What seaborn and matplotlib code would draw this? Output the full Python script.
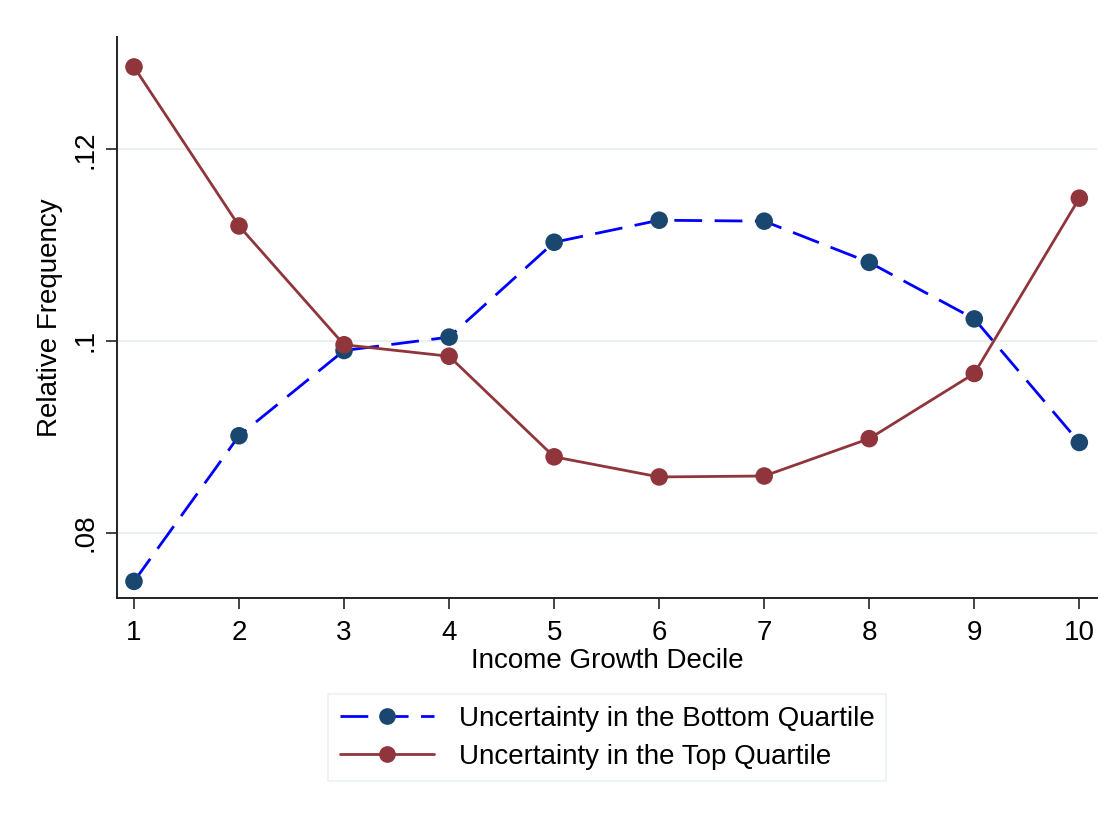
import pandas as pd
import matplotlib
matplotlib.use("Agg")
import matplotlib.pyplot as plt
import seaborn as sns
from matplotlib.lines import Line2D

deciles = [1, 2, 3, 4, 5, 6, 7, 8, 9, 10]
bottom_quartile = [0.0749, 0.0901, 0.0990, 0.1004, 0.1103, 0.1126, 0.1125, 0.1082, 0.1023, 0.0894]
top_quartile = [0.1286, 0.1120, 0.0996, 0.0984, 0.0879, 0.0858, 0.0859, 0.0898, 0.0966, 0.1149]
series_names = ["Uncertainty in the Bottom Quartile", "Uncertainty in the Top Quartile"]

df = pd.DataFrame({
    "decile": deciles * 2,
    "freq": bottom_quartile + top_quartile,
    "series": [series_names[0]] * len(deciles) + [series_names[1]] * len(deciles),
})

sns.set_style("white")
plt.rcParams["font.family"] = ["Liberation Sans", "DejaVu Sans"]
plt.rcParams["text.color"] = "black"
plt.rcParams["axes.labelcolor"] = "black"
plt.rcParams["xtick.color"] = "black"
plt.rcParams["ytick.color"] = "black"

line_colors = {series_names[0]: "#0000ff", series_names[1]: "#90353b"}
marker_colors = {series_names[0]: "#1a476f", series_names[1]: "#90353b"}

fig = plt.figure(figsize=(11.14, 8.17), dpi=100)
ax = fig.add_axes([0.105, 0.268, 0.88, 0.687])

# gridlines
for yv in [0.08, 0.10, 0.12]:
    ax.axhline(yv, color="#e8f0f2", lw=1.5, zorder=0)

sns.lineplot(data=df, x="decile", y="freq", hue="series", style="series",
             palette=line_colors, dashes={series_names[0]: (10, 4.5), series_names[1]: ""},
             linewidth=2, legend=False, ax=ax, zorder=2)
sns.scatterplot(data=df, x="decile", y="freq", hue="series", palette=marker_colors,
                s=160, edgecolor="none", legend=False, ax=ax, zorder=3)

ax.set_xlim(0.838, 10.171)
ax.set_ylim(0.07316, 0.13175)
ax.set_xticks(deciles)
ax.set_yticks([0.08, 0.10, 0.12])
ax.set_yticklabels([".08", ".1", ".12"], rotation=90, va="center")
ax.tick_params(axis="both", labelsize=20, length=8, width=1.2, color="#222222", direction="out",
               left=True, bottom=True)
ax.tick_params(axis="x", pad=8)
ax.tick_params(axis="y", pad=5)
ax.set_xlabel("Income Growth Decile", fontsize=20, labelpad=1)
ax.set_ylabel("Relative Frequency", fontsize=20, labelpad=7)

for side in ["top", "right"]:
    ax.spines[side].set_visible(False)
for side in ["left", "bottom"]:
    ax.spines[side].set_color("#222222")
    ax.spines[side].set_linewidth(1.4)

handles = [
    Line2D([0], [0], color=line_colors[series_names[0]], lw=2, dashes=(10, 4.5),
           marker="o", markersize=11, markerfacecolor=marker_colors[series_names[0]],
           markeredgecolor=marker_colors[series_names[0]]),
    Line2D([0], [0], color=line_colors[series_names[1]], lw=2,
           marker="o", markersize=11, markerfacecolor=marker_colors[series_names[1]],
           markeredgecolor=marker_colors[series_names[1]]),
]
leg = fig.legend(handles, series_names, loc="center", bbox_to_anchor=(0.545, 0.097),
                 fontsize=20, frameon=True, fancybox=False, handlelength=3.4,
                 borderpad=0.4, borderaxespad=0, labelspacing=0.45, handletextpad=0.9)
leg.get_frame().set_edgecolor("#e6eef0")
leg.get_frame().set_linewidth(1.2)

fig.savefig("out.png", dpi=100, facecolor="white")
